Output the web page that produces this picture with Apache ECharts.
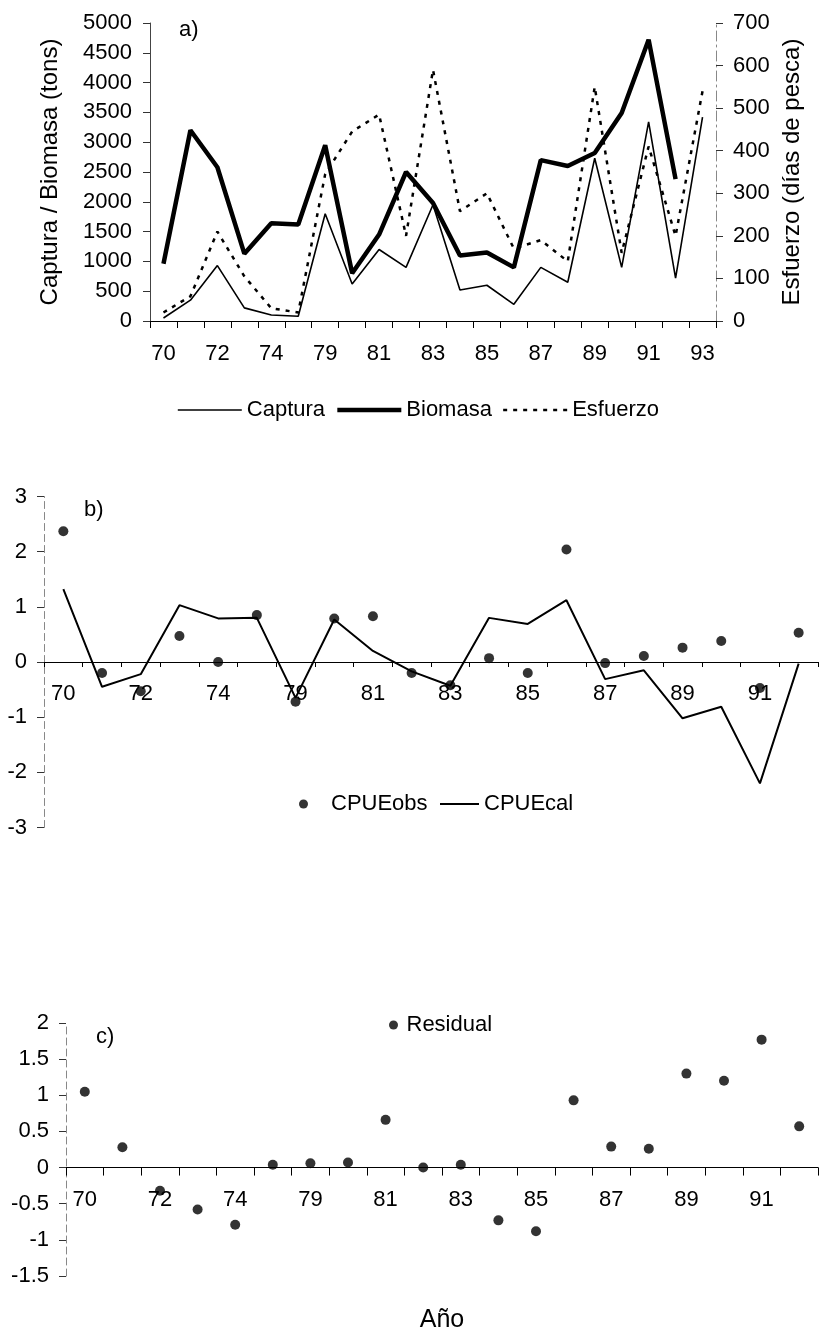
<!DOCTYPE html>
<html>
<head>
<meta charset="utf-8">
<script src="https://cdn.jsdelivr.net/npm/echarts@6/dist/echarts.min.js"></script>
<style>
  html, body { margin: 0; padding: 0; background: #fff; }
  #chart { width: 820px; height: 1334px; }
</style>
</head>
<body>
<div id="chart"></div>
<script>
// Years (two-digit) for the catch / biomass / effort panel
const yearsA = ['70','71','72','73','74','78','79','80','81','82','83','84','85','86','87','88','89','90','91','92','93'];
// Years for the CPUE and residual panels
const yearsBC = ['70','71','72','73','74','78','79','80','81','82','83','84','85','86','87','88','89','90','91','92'];

// Panel a) catch and biomass (tons), fishing effort (days)
const captura  = [50, 350, 930, 220, 100, 80, 1800, 620, 1200, 900, 1950, 520, 600, 280, 900, 650, 2730, 900, 3340, 720, 3420];
const biomasa  = [960, 3200, 2580, 1130, 1640, 1620, 2950, 800, 1450, 2500, 1980, 1100, 1150, 900, 2700, 2600, 2820, 3490, 4720, 2380, null];
const esfuerzo = [20, 58, 210, 105, 30, 20, 345, 445, 485, 200, 590, 258, 300, 170, 190, 140, 550, 160, 410, 200, 540];

// Panel b) observed and calculated CPUE
const cpueObs = [2.37, -0.2, -0.53, 0.47, 0.0, 0.85, -0.72, 0.79, 0.83, -0.2, -0.42, 0.07, -0.2, 2.04, -0.02, 0.11, 0.26, 0.38, -0.47, 0.53];
const cpueCal = [1.32, -0.45, -0.22, 1.03, 0.79, 0.8, -0.65, 0.77, 0.2, -0.17, -0.43, 0.8, 0.69, 1.12, -0.31, -0.15, -1.02, -0.81, -2.2, -0.03];

// Panel c) residuals
const residual = [1.05, 0.28, -0.32, -0.58, -0.79, 0.04, 0.06, 0.07, 0.66, 0.0, 0.04, -0.73, -0.88, 0.93, 0.29, 0.26, 1.3, 1.2, 1.77, 0.57];

const FONT = 'Liberation Sans, Arial, Helvetica, sans-serif';
const FS = 22;
const plain = v => String(v);

// Grid geometry (px)
const GB = { top: 496.5, height: 331 };   // panel b, y from -3 to 3
const GC = { top: 1023, height: 253 };    // panel c, y from -1.5 to 2

function catAxis(gridIndex, data, margin, tickLen) {
  return {
    type: 'category',
    gridIndex: gridIndex,
    data: data,
    boundaryGap: true,
    axisLine: { show: true, onZero: true, lineStyle: { color: '#000', width: 1 } },
    axisTick: { show: true, interval: 0, length: tickLen, lineStyle: { color: '#000', width: 1 } },
    axisLabel: { interval: 1, margin: margin, color: '#000', fontSize: FS, fontFamily: FONT },
    splitLine: { show: false }
  };
}

function valAxis(gridIndex, min, max, interval, lineType, color, position) {
  return {
    type: 'value',
    gridIndex: gridIndex,
    min: min, max: max, interval: interval,
    position: position || 'left',
    axisLine: { show: true, lineStyle: { color: color, width: 1, type: lineType } },
    axisTick: { show: true, length: 7, lineStyle: { color: '#333', width: 1 } },
    axisLabel: { margin: 17, color: '#000', fontSize: FS, fontFamily: FONT, formatter: plain },
    splitLine: { show: false }
  };
}

const chart = echarts.init(document.getElementById('chart'), null, { renderer: 'canvas' });

const leftA = valAxis(0, 0, 5000, 500, 'solid', '#444');
leftA.name = 'Captura / Biomasa (tons)';
leftA.nameLocation = 'middle';
leftA.nameGap = 88;
leftA.nameTextStyle = { fontSize: 24, fontFamily: FONT, color: '#000' };
leftA.axisLabel.margin = 18;

const rightA = valAxis(0, 0, 700, 100, [10, 4, 2, 4], '#888', 'right');
rightA.name = 'Esfuerzo (días de pesca)';
rightA.nameLocation = 'middle';
rightA.nameGap = 60;
rightA.nameTextStyle = { fontSize: 24, fontFamily: FONT, color: '#000' };

// Year labels sit just under the zero line of panels b and c
const zeroB = GB.height / 2;              // distance from zero line to bottom of panel b
const zeroC = GC.height * 1.5 / 3.5;      // distance from zero line to bottom of panel c
const xB = catAxis(1, yearsBC, 21 - zeroB, 5);
const xC = catAxis(2, yearsBC, 21 - zeroC, 8);
xC.name = 'Año';
xC.nameLocation = 'middle';
xC.nameGap = 32;
xC.nameTextStyle = { fontSize: 25, fontFamily: FONT, color: '#000' };

const noDot = { opacity: 0 };

const option = {
  animation: false,
  backgroundColor: '#fff',
  textStyle: { fontFamily: FONT, color: '#000' },
  grid: [
    { left: 150, right: 104, top: 23, height: 298, outerBoundsMode: 'none', containLabel: false },
    { left: 44, right: 2, top: GB.top, height: GB.height, outerBoundsMode: 'none', containLabel: false },
    { left: 66, right: 2, top: GC.top, height: GC.height, outerBoundsMode: 'none', containLabel: false }
  ],
  xAxis: [
    catAxis(0, yearsA, 22, 7),
    xB,
    xC
  ],
  yAxis: [
    leftA,
    rightA,
    valAxis(1, -3, 3, 1, [7, 4], '#888'),
    valAxis(2, -1.5, 2, 0.5, [7, 4], '#888')
  ],
  legend: [
    {
      data: [
        { name: 'Captura', itemStyle: noDot, lineStyle: { width: 1.6 } },
        { name: 'Biomasa', itemStyle: noDot, lineStyle: { width: 4.5 } },
        { name: 'Esfuerzo', itemStyle: noDot, lineStyle: { width: 2.5, type: [4, 6] } }
      ],
      left: 172, top: 394,
      itemWidth: 64, itemHeight: 14, itemGap: 10,
      textStyle: { fontSize: FS, fontFamily: FONT, color: '#000' }
    },
    {
      data: ['CPUEobs'],
      left: 294, top: 788,
      itemWidth: 45, itemHeight: 9,
      textStyle: { fontSize: FS, fontFamily: FONT, color: '#000' }
    },
    {
      data: [{ name: 'CPUEcal', itemStyle: noDot }],
      left: 434, top: 788,
      itemWidth: 39, itemHeight: 8,
      textStyle: { fontSize: FS, fontFamily: FONT, color: '#000' }
    },
    {
      data: ['Residual'],
      left: 384, top: 1009,
      itemWidth: 16, itemHeight: 9,
      textStyle: { fontSize: FS, fontFamily: FONT, color: '#000' }
    }
  ],
  graphic: [
    { type: 'text', left: 179, top: 19, style: { text: 'a)', font: '22px ' + FONT, fill: '#000' } },
    { type: 'text', left: 84, top: 499, style: { text: 'b)', font: '22px ' + FONT, fill: '#000' } },
    { type: 'text', left: 96, top: 1026, style: { text: 'c)', font: '22px ' + FONT, fill: '#000' } }
  ],
  series: [
    {
      name: 'Captura', type: 'line', xAxisIndex: 0, yAxisIndex: 0,
      data: captura, symbol: 'none', color: '#000',
      lineStyle: { color: '#000', width: 1.6 }
    },
    {
      name: 'Biomasa', type: 'line', xAxisIndex: 0, yAxisIndex: 0,
      data: biomasa, symbol: 'none', color: '#000',
      lineStyle: { color: '#000', width: 4.5 }
    },
    {
      name: 'Esfuerzo', type: 'line', xAxisIndex: 0, yAxisIndex: 1,
      data: esfuerzo, symbol: 'none', color: '#000',
      lineStyle: { color: '#000', width: 2.5, type: [4, 6] }
    },
    {
      name: 'CPUEobs', type: 'scatter', xAxisIndex: 1, yAxisIndex: 2,
      data: cpueObs, symbol: 'circle', symbolSize: 10, color: '#000',
      itemStyle: { color: '#000' }
    },
    {
      name: 'CPUEcal', type: 'line', xAxisIndex: 1, yAxisIndex: 2,
      data: cpueCal, symbol: 'none', color: '#000',
      lineStyle: { color: '#000', width: 2 }
    },
    {
      name: 'Residual', type: 'scatter', xAxisIndex: 2, yAxisIndex: 3,
      data: residual, symbol: 'circle', symbolSize: 10, color: '#000',
      itemStyle: { color: '#000' }
    }
  ]
};

chart.setOption(option);
</script>
</body>
</html>
